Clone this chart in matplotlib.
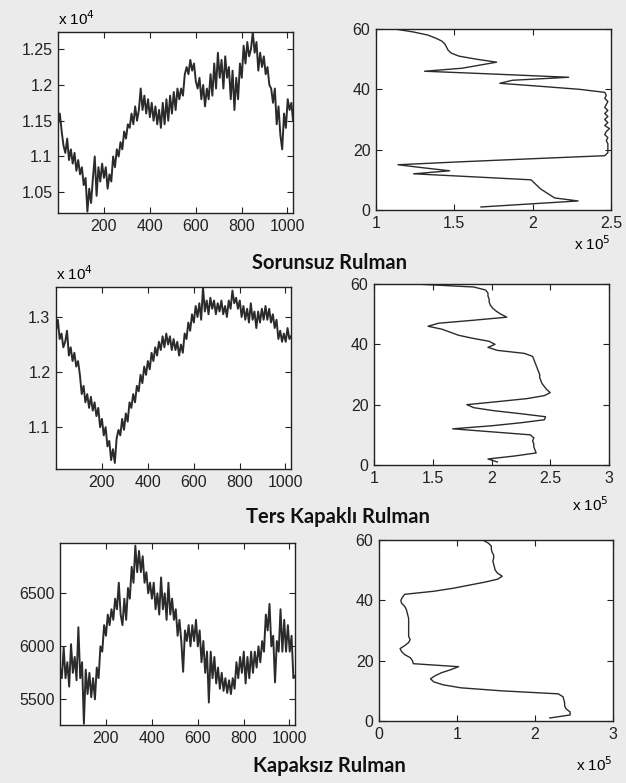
import numpy as np
import matplotlib
matplotlib.use("Agg")
import matplotlib.pyplot as plt
from matplotlib.ticker import FuncFormatter

# --- left column: time signals (sample index 1..1024, one value every 8 samples) ---
samples = list(range(1, 1024, 8)) + [1024]

sorunsuz_sig = [
    11450, 11600, 11350, 11150, 11050, 11250, 10950, 11100, 10900, 11050,
    10800, 10950, 10750, 10850, 10600, 10700, 10230, 10550, 10350, 10700,
    11000, 10450, 10850, 10650, 10900, 10700, 10850, 10550, 10750, 10650,
    11000, 10850, 11100, 11000, 11200, 11100, 11350, 11250, 11450, 11400,
    11600, 11450, 11700, 11500, 11650, 11950, 11650, 11850, 11600, 11800,
    11550, 11750, 11500, 11700, 11450, 11650, 11400, 11750, 11450, 11800,
    11500, 11850, 11600, 11900, 11650, 11950, 11800, 11950, 11850, 12150,
    12250, 12150, 12350, 12200, 12300, 12050, 11950, 12100, 11800, 12000,
    11700, 11950, 11800, 12150, 11850, 12300, 11950, 12450, 12100, 12350,
    11950, 12400, 12100, 12250, 11800, 12200, 11650, 12100, 11800, 12300,
    12100, 12550, 12300, 12600, 12400, 12500, 12740, 12450, 12600, 12200,
    12450, 12250, 12400, 12150, 12250, 12000, 11950, 11750, 11950, 11450,
    11700, 11300, 11100, 11600, 11400, 11800, 11650, 11750, 11500]

ters_sig = [
    12750, 12950, 12600, 12700, 12450, 12550, 12750, 12300, 12450, 12200,
    12350, 12100, 12200, 11950, 11600, 11750, 11450, 11600, 11350, 11550,
    11300, 11450, 11200, 11350, 11000, 11150, 10850, 11000, 10650, 10750,
    10400, 10600, 10350, 10800, 10950, 10850, 11150, 10950, 11250, 11100,
    11450, 11350, 11600, 11450, 11750, 11650, 11950, 11800, 12100, 11950,
    12200, 12050, 12350, 12200, 12450, 12300, 12550, 12400, 12650, 12450,
    12700, 12500, 12650, 12400, 12600, 12400, 12550, 12300, 12500, 12350,
    12700, 12600, 12900, 12750, 13050, 12900, 13200, 13000, 13250, 12950,
    13540, 13100, 13300, 13050, 13350, 13150, 13300, 13050, 13250, 13100,
    13300, 13050, 13200, 13000, 13300, 13150, 13480, 13250, 13350, 13150,
    13300, 13000, 13200, 12950, 13150, 12900, 13250, 12950, 13100, 12800,
    13100, 12900, 13150, 12950, 13200, 12950, 13150, 12900, 13050, 12800,
    12950, 12600, 12750, 12550, 12700, 12550, 12800, 12600, 12650]

kapaksiz_sig = [
    5800, 5700, 5990, 5700, 5850, 5620, 6020, 5750, 5900, 5680,
    6180, 5700, 5850, 5270, 5780, 5550, 5750, 5520, 5700, 5500,
    5800, 5700, 6000, 5950, 6200, 6100, 6300, 6200, 6350, 6250,
    6450, 6350, 6600, 6300, 6200, 6450, 6250, 6550, 6450, 6750,
    6600, 6950, 6700, 6900, 6700, 6850, 6600, 6700, 6500, 6600,
    6450, 6600, 6350, 6500, 6300, 6650, 6350, 6500, 6250, 6600,
    6300, 6450, 6250, 6350, 6100, 6250, 6050, 5760, 6150, 6050,
    6200, 6000, 6200, 6050, 6250, 6000, 6150, 5850, 6050, 5750,
    5950, 5470, 5950, 5700, 5900, 5650, 5800, 5600, 5750, 5580,
    5700, 5560, 5680, 5550, 5700, 5600, 5850, 5700, 5900, 5750,
    5950, 5650, 5900, 5700, 5950, 5750, 5950, 5800, 6000, 5850,
    6050, 5950, 6300, 6150, 6400, 6000, 6100, 5660, 6050, 5950,
    6350, 5950, 6250, 5950, 6200, 5950, 6100, 5700, 5720]

# --- right column: profiles (level 1..60, values in 1e5 units) ---
levels = list(range(1, 61))

sorunsuz_prof = [
    1.67, 1.98, 2.29, 2.14, 2.11, 2.08, 2.05, 2.03, 2.01, 1.99,
    1.62, 1.24, 1.47, 1.30, 1.14, 1.55, 2.00, 2.46, 2.48, 2.48,
    2.48, 2.48, 2.47, 2.48, 2.46, 2.47, 2.49, 2.46, 2.48, 2.46,
    2.48, 2.46, 2.48, 2.46, 2.47, 2.48, 2.46, 2.47, 2.46, 2.30,
    2.05, 1.79, 1.87, 2.23, 1.78, 1.31, 1.55, 1.66, 1.77, 1.64,
    1.53, 1.48, 1.46, 1.45, 1.44, 1.42, 1.38, 1.33, 1.24, 1.12]

ters_prof = [
    2.05, 1.97, 2.20, 2.38, 2.37, 2.36, 2.36, 2.35, 2.36, 2.33,
    2.00, 1.67, 2.00, 2.25, 2.45, 2.46, 2.25, 2.02, 1.85, 1.79,
    2.05, 2.30, 2.45, 2.50, 2.47, 2.45, 2.43, 2.42, 2.41, 2.41,
    2.40, 2.39, 2.38, 2.37, 2.36, 2.35, 2.28, 2.05, 1.97, 2.03,
    1.98, 1.84, 1.72, 1.65, 1.58, 1.46, 1.55, 1.85, 2.13, 2.08,
    2.04, 2.01, 1.99, 1.98, 1.98, 1.97, 1.97, 1.95, 1.85, 1.35]

kapaksiz_prof = [
    2.19, 2.45, 2.45, 2.40, 2.38, 2.38, 2.37, 2.36, 2.30, 1.57,
    1.05, 0.82, 0.70, 0.66, 0.72, 0.80, 0.92, 1.02, 0.44, 0.43,
    0.40, 0.33, 0.29, 0.27, 0.33, 0.38, 0.40, 0.38, 0.38, 0.38,
    0.38, 0.38, 0.38, 0.38, 0.37, 0.36, 0.35, 0.33, 0.29, 0.28,
    0.30, 0.33, 0.70, 0.95, 1.15, 1.35, 1.52, 1.58, 1.52, 1.49,
    1.48, 1.47, 1.46, 1.47, 1.47, 1.45, 1.44, 1.44, 1.40, 1.33]

titles = ["Sorunsuz Rulman", "Ters Kapaklı Rulman", "Kapaksız Rulman"]

BG = "#ebebeb"
LINE = "#2b2b2b"
FS = 11.5

plt.rcParams["font.family"] = "Liberation Sans"
plt.rcParams["font.size"] = FS

fig = plt.figure(figsize=(6.26, 7.83), dpi=100, facecolor=BG)


def style_axes(ax):
    ax.set_facecolor("white")
    for s in ax.spines.values():
        s.set_linewidth(1.0)
        s.set_color("#222222")
    ax.tick_params(direction="in", length=4, width=0.8, top=True, right=True,
                   labelsize=FS, pad=4, colors="#222222")


def add_px_axes(x0, y0, x1, y1):
    W, H = 626.0, 783.0
    return fig.add_axes([x0 / W, 1 - y1 / H, (x1 - x0) / W, (y1 - y0) / H])


e4 = FuncFormatter(lambda v, p: f"{v / 1e4:g}")
plain = FuncFormatter(lambda v, p: f"{v:g}")

# row 1
ax1 = add_px_axes(58, 32, 293, 213)
ax1.plot(samples, sorunsuz_sig, color=LINE, lw=1.4)
ax1.set_xlim(1, 1024)
ax1.set_ylim(10210, 12740)
ax1.set_xticks([200, 400, 600, 800, 1000])
ax1.set_yticks([10500, 11000, 11500, 12000, 12500])
ax1.yaxis.set_major_formatter(e4)
style_axes(ax1)
ax1.text(0, 1.02, r"x 10$^{4}$", transform=ax1.transAxes, ha="left", va="bottom", fontsize=FS - 0.5)

ax2 = add_px_axes(376, 29, 611, 210)
ax2.plot(sorunsuz_prof, levels, color=LINE, lw=1.0)
ax2.set_xlim(1, 2.5)
ax2.set_ylim(0, 60)
ax2.set_xticks([1, 1.5, 2, 2.5])
ax2.set_yticks([0, 20, 40, 60])
ax2.xaxis.set_major_formatter(plain)
style_axes(ax2)
ax2.text(1, -0.135, r"x 10$^{5}$", transform=ax2.transAxes, ha="right", va="top", fontsize=FS - 0.5)

# row 2
ax3 = add_px_axes(56, 287, 291, 469)
ax3.plot(samples, ters_sig, color=LINE, lw=1.4)
ax3.set_xlim(1, 1024)
ax3.set_ylim(10240, 13545)
ax3.set_xticks([200, 400, 600, 800, 1000])
ax3.set_yticks([11000, 12000, 13000])
ax3.yaxis.set_major_formatter(e4)
style_axes(ax3)
ax3.text(0, 1.02, r"x 10$^{4}$", transform=ax3.transAxes, ha="left", va="bottom", fontsize=FS - 0.5)

ax4 = add_px_axes(374, 284, 609, 465)
ax4.plot(ters_prof, levels, color=LINE, lw=1.0)
ax4.set_xlim(1, 3)
ax4.set_ylim(0, 60)
ax4.set_xticks([1, 1.5, 2, 2.5, 3])
ax4.set_yticks([0, 20, 40, 60])
ax4.xaxis.set_major_formatter(plain)
style_axes(ax4)
ax4.text(1, -0.17, r"x 10$^{5}$", transform=ax4.transAxes, ha="right", va="top", fontsize=FS - 0.5)

# row 3
ax5 = add_px_axes(60, 543, 295, 725)
ax5.plot(samples, kapaksiz_sig, color=LINE, lw=1.4)
ax5.set_xlim(1, 1024)
ax5.set_ylim(5258, 6975)
ax5.set_xticks([200, 400, 600, 800, 1000])
ax5.set_yticks([5500, 6000, 6500])
style_axes(ax5)

ax6 = add_px_axes(379, 540, 613, 721)
ax6.plot(kapaksiz_prof, levels, color=LINE, lw=1.0)
ax6.set_xlim(0, 3)
ax6.set_ylim(0, 60)
ax6.set_xticks([0, 1, 2, 3])
ax6.set_yticks([0, 20, 40, 60])
style_axes(ax6)
ax6.text(1, -0.19, r"x 10$^{5}$", transform=ax6.transAxes, ha="right", va="top", fontsize=FS - 0.5)

# row captions
for (cx, cy), t in zip([(329, 263), (338, 517), (329, 766)], titles):
    fig.text(cx / 626, 1 - cy / 783, t, ha="center", va="center",
             fontsize=14.5, fontweight="bold", family=["Lato", "DejaVu Sans"], color="#111111")

fig.savefig("out.png", dpi=100, facecolor=BG)
